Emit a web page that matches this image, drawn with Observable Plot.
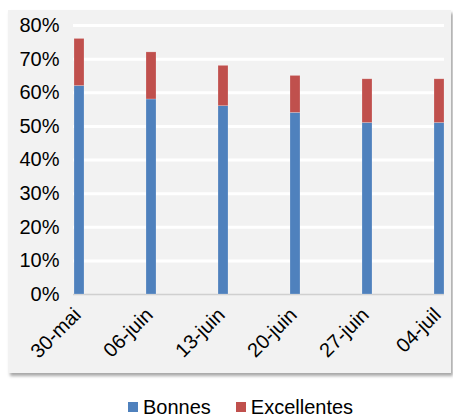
<!DOCTYPE html>
<html><head><meta charset="utf-8">
<script src="https://cdn.jsdelivr.net/npm/d3@7"></script>
<script src="https://cdn.jsdelivr.net/npm/@observablehq/plot@0.6"></script>
<style>
body{margin:0;width:453px;height:417px;background:#fff;font-family:"Liberation Sans",Arial,sans-serif;position:relative;overflow:hidden}
#panel{position:absolute;left:8px;top:10px;width:443px;height:363px;background:#f2f2f2;box-shadow:2px 3px 3px rgba(0,0,0,0.35)}
#legend{position:absolute;left:128px;top:396px;font-size:20px;color:#000;display:flex;align-items:center;line-height:22px}
#legend span.sw{display:inline-block;width:10px;height:10px;margin-right:5px}
#legend span.lab{margin-right:25px}
</style></head>
<body>
<div id="panel"></div>
<div id="legend"></div>
<script>
const dates = ["30-mai","06-juin","13-juin","20-juin","27-juin","04-juil"];
const bonnes = [0.62, 0.58, 0.56, 0.54, 0.51, 0.51];
const excellentes = [0.14, 0.14, 0.12, 0.11, 0.13, 0.13];
const series = ["Bonnes","Excellentes"];
const colors = ["#4f81bd","#c0504d"];
const yTicks = [0,0.1,0.2,0.3,0.4,0.5,0.6,0.7,0.8];

const data = [];
dates.forEach((d,i)=>{
  data.push({date:d, serie:"Bonnes", value:bonnes[i]});
  data.push({date:d, serie:"Excellentes", value:excellentes[i]});
});

const plot = Plot.plot({
  width: 443, height: 363,
  marginLeft: 65, marginRight: 7, marginTop: 15, marginBottom: 79,
  style: {background:"transparent", fontFamily:"Liberation Sans, Arial, sans-serif", overflow:"visible"},
  x: {domain: dates, paddingInner: 0.862, paddingOuter: 0, axis: null},
  y: {domain: [0,0.8], axis: null},
  color: {domain: series, range: colors},
  marks: [
    Plot.ruleY(yTicks.filter(d=>d>0), {stroke:"#fff", strokeWidth:3}),
    Plot.ruleY([0], {stroke:"#d0d0d0", strokeWidth:1.5}),
    Plot.barY(data, Plot.stackY({x:"date", y:"value", fill:"serie", order: series, stroke:"#ffffff", strokeOpacity:0.35, strokeWidth:0.6})),
    Plot.text(yTicks, {x: ()=>dates[0], y: d=>d, text: d=>Math.round(d*100)+"%", frameAnchor:"left", textAnchor:"end", dx:-20, fontSize:20, fill:"#000"}),
    Plot.text(dates, {x: d=>d, y: 0, text: d=>d, textAnchor:"end", rotate:-45, dx:-2, dy:17, fontSize:20, fill:"#000"})
  ]
});
document.getElementById("panel").appendChild(plot);

const leg = document.getElementById("legend");
series.forEach((s,i)=>{
  const sw = document.createElement("span"); sw.className="sw"; sw.style.background=colors[i];
  const lab = document.createElement("span"); lab.className="lab"; lab.textContent=s;
  leg.appendChild(sw); leg.appendChild(lab);
});
</script>
</body></html>
